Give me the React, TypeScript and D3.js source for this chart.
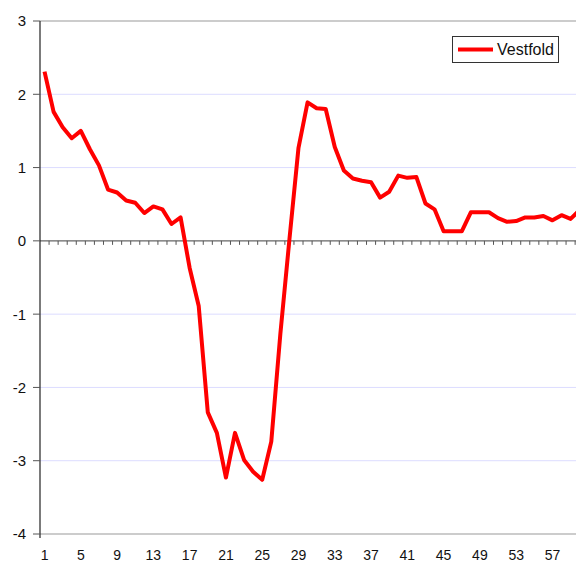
import React from "react";
import * as d3 from "d3";

const categories: number[] = d3.range(1, 61);
const seriesName = "Vestfold";
const values: number[] = [
  2.31, 1.76, 1.55, 1.4, 1.5, 1.25, 1.03, 0.7, 0.66, 0.55,
  0.52, 0.38, 0.47, 0.43, 0.23, 0.32, -0.37, -0.89, -2.34, -2.62,
  -3.23, -2.62, -2.99, -3.15, -3.26, -2.74, -1.27, 0.02, 1.27, 1.89,
  1.81, 1.8, 1.28, 0.96, 0.85, 0.82, 0.8, 0.59, 0.67, 0.89,
  0.86, 0.87, 0.51, 0.43, 0.13, 0.13, 0.13, 0.39, 0.39, 0.39,
  0.31, 0.26, 0.27, 0.32, 0.32, 0.34, 0.28, 0.35, 0.3, 0.42,
];
const yTicks: number[] = [-4, -3, -2, -1, 0, 1, 2, 3];
const xLabels: number[] = d3.range(1, 61, 4);

const W = 576;
const H = 562;
const left = 40;
const top = 21;
const bottom = 534;
const bw = 9.07;
const right = left + categories.length * bw;
const font = "'Liberation Sans', Arial, Helvetica, sans-serif";

export default function App() {
  const x = d3.scaleBand<number>().domain(categories).range([left, right]).padding(0);
  const y = d3.scaleLinear().domain([-4, 3]).range([bottom, top]);
  const cx = (c: number) => (x(c) as number) + x.bandwidth() / 2;
  const line = d3
    .line<number>()
    .x((_, i) => cx(categories[i]))
    .y((v) => y(v));
  const y0 = y(0);

  return (
    <svg
      width={W}
      height={H}
      style={{ position: "absolute", left: 0, top: 0, display: "block", background: "#fff" }}
    >
      <rect x={0} y={0} width={W} height={H} fill="#fff" />
      {/* gridlines */}
      {yTicks
        .filter((t) => t !== 0 && t !== 3 && t !== -4)
        .map((t) => (
          <line key={"g" + t} x1={left} x2={right} y1={y(t)} y2={y(t)} stroke="#dcdcff" strokeWidth={1} />
        ))}
      {/* top and bottom border */}
      <line x1={left} x2={right} y1={y(3)} y2={y(3)} stroke="#999" strokeWidth={1.2} />
      <line x1={left} x2={right} y1={y(-4)} y2={y(-4)} stroke="#999" strokeWidth={1.2} />
      {/* zero axis */}
      <line x1={left} x2={right} y1={y0} y2={y0} stroke="#666" strokeWidth={1.2} />
      {categories.map((c) => (
        <line
          key={"xt" + c}
          x1={(x(c) as number) + bw}
          x2={(x(c) as number) + bw}
          y1={y0}
          y2={y0 + 4}
          stroke="#555"
          strokeWidth={1}
        />
      ))}
      {/* y axis */}
      <line x1={left} x2={left} y1={top} y2={bottom + 4} stroke="#222" strokeWidth={1.2} />
      {yTicks.map((t) => (
        <g key={"yt" + t}>
          <line x1={left - 7} x2={left} y1={y(t)} y2={y(t)} stroke="#555" strokeWidth={1} />
          <text
            x={26}
            y={y(t)}
            dy="0.36em"
            textAnchor="end"
            fontFamily={font}
            fontSize={15}
            fill="#111"
          >
            {t}
          </text>
        </g>
      ))}
      {/* x labels */}
      {xLabels.map((c) => (
        <text
          key={"xl" + c}
          x={cx(c)}
          y={560}
          textAnchor="middle"
          fontFamily={font}
          fontSize={14}
          fill="#111"
        >
          {c}
        </text>
      ))}
      {/* series */}
      <path
        d={line(values) || ""}
        fill="none"
        stroke="#ff0000"
        strokeWidth={4}
        strokeLinejoin="round"
      />
      {/* legend */}
      <rect x={452.5} y={36.5} width={106} height={26} fill="#fff" stroke="#333" strokeWidth={1} />
      <line x1={458} x2={493} y1={49.5} y2={49.5} stroke="#ff0000" strokeWidth={4} />
      <text x={497} y={49.5} dy="0.36em" fontFamily={font} fontSize={16} fill="#111">
        {seriesName}
      </text>
    </svg>
  );
}
